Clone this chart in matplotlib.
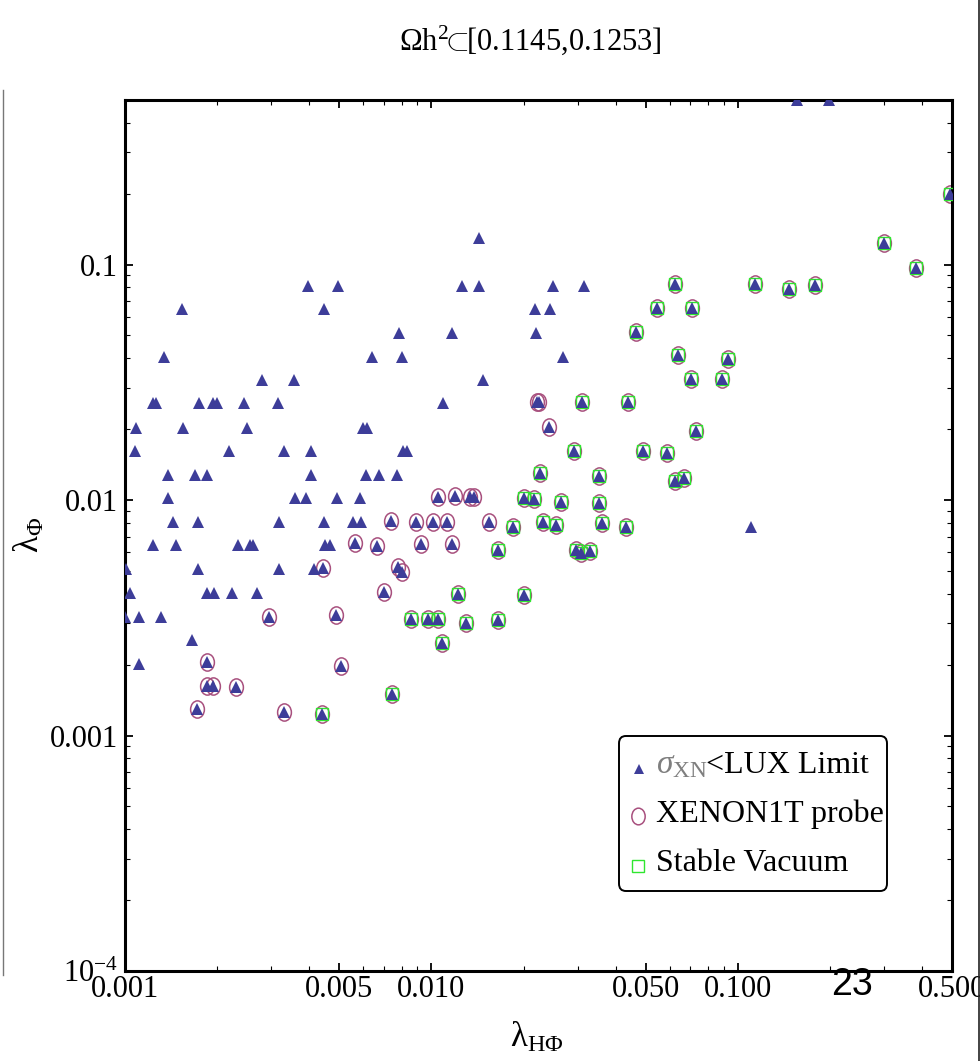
import matplotlib
matplotlib.use('Agg')
import matplotlib.pyplot as plt
from matplotlib.path import Path
from matplotlib.transforms import Affine2D
from matplotlib.patches import FancyBboxPatch
from matplotlib.lines import Line2D
from matplotlib.ticker import FixedLocator, NullFormatter

plt.rcParams['font.family'] = ['Liberation Serif', 'DejaVu Serif']
plt.rcParams['mathtext.fontset'] = 'custom'
plt.rcParams['mathtext.rm'] = 'Liberation Serif'
plt.rcParams['mathtext.it'] = 'Liberation Serif:italic'
plt.rcParams['mathtext.bf'] = 'Liberation Serif:bold'

# points allowed by LUX only
lux_x = [0.0143, 0.00395, 0.00496, 0.01256, 0.0143, 0.00153, 0.00447, 0.00782, 0.0117,
         0.00134, 0.0064, 0.00804, 0.00281, 0.00355, 0.01477,
         0.00123, 0.00126, 0.00175, 0.00194, 0.0020, 0.00245, 0.00316, 0.01094,
         0.00109, 0.00155, 0.0025, 0.0060, 0.00615,
         0.00108, 0.00219, 0.0033, 0.00404, 0.00806, 0.00831,
         0.00138, 0.00169, 0.00185, 0.00404, 0.00612, 0.00675, 0.0077,
         0.00138, 0.0036, 0.0039, 0.00491, 0.00585,
         0.00143, 0.00173, 0.00318, 0.00447, 0.00556, 0.00588,
         0.00123, 0.00147, 0.00233, 0.00256, 0.00262, 0.00449, 0.00467,
         0.00101, 0.00173, 0.00318, 0.00415,
         0.00104, 0.00185, 0.00195, 0.00223, 0.0027,
         0.0010, 0.00111, 0.00131,
         0.00165, 0.00111,
         0.025, 0.0315, 0.0217, 0.0244, 0.022, 0.0268,
         0.156, 0.199, 0.110]
lux_y = [0.130, 0.0814, 0.0814, 0.0814, 0.0814, 0.0648, 0.0648, 0.0512, 0.0512,
         0.0407, 0.0407, 0.0407, 0.0324, 0.0324, 0.0322,
         0.0258, 0.0258, 0.0258, 0.0258, 0.0258, 0.0258, 0.0258, 0.0258,
         0.0202, 0.0202, 0.0202, 0.0202, 0.0202,
         0.0162, 0.0162, 0.0162, 0.0162, 0.0162, 0.0162,
         0.0128, 0.0128, 0.0128, 0.0128, 0.0128, 0.0128, 0.0128,
         0.0102, 0.0102, 0.0102, 0.0102, 0.0102,
         0.00808, 0.00808, 0.00808, 0.00808, 0.00808, 0.00808,
         0.00643, 0.00643, 0.00643, 0.00643, 0.00643, 0.00643, 0.00643,
         0.00512, 0.00512, 0.00512, 0.00512,
         0.00403, 0.00403, 0.00403, 0.00403, 0.00403,
         0.00319, 0.00319, 0.00319,
         0.00254, 0.00202,
         0.0814, 0.0814, 0.0648, 0.0648, 0.0512, 0.0407,
         0.5, 0.5, 0.00765]

# points within XENON1T reach but with unstable vacuum
xen_x = [0.01049, 0.01194, 0.01337, 0.01377, 0.0074, 0.00889, 0.01014, 0.01122, 0.01542,
         0.00563, 0.00666, 0.00925, 0.01165, 0.00442, 0.00776, 0.00804, 0.00702,
         0.00295, 0.00488, 0.00185, 0.00506, 0.00185, 0.00194, 0.0023, 0.00172, 0.0033,
         0.02207, 0.02245, 0.02425]
xen_y = [0.0103, 0.0104, 0.0103, 0.0103, 0.00816, 0.00808, 0.00808, 0.00808, 0.00806,
         0.00654, 0.00639, 0.00648, 0.00648, 0.00517, 0.0052, 0.00497, 0.00405,
         0.00319, 0.00326, 0.00205, 0.00197, 0.00162, 0.00162, 0.0016, 0.00129, 0.00126,
         0.026, 0.026, 0.0205]

# XENON1T points that also keep the vacuum stable
stab_x = [0.02006, 0.02162, 0.01851, 0.01654, 0.01224, 0.00856, 0.00977, 0.01053, 0.01294,
          0.01654, 0.01085, 0.00744, 0.00441,
          0.0624, 0.1135, 0.1466, 0.1782, 0.3008, 0.3807, 0.4928,
          0.0545, 0.0707, 0.0464, 0.0638, 0.0929, 0.0704, 0.0886,
          0.0311, 0.0437, 0.0732, 0.0293, 0.0489, 0.0586,
          0.0226, 0.0353, 0.0624, 0.0666,
          0.0265, 0.0352,
          0.0232, 0.0255, 0.0361, 0.0430,
          0.0297, 0.0308, 0.0329,
          0.0201]
stab_y = [0.0102, 0.0101, 0.0077, 0.00616, 0.00401, 0.00314, 0.00314, 0.00311, 0.00301,
          0.00309, 0.00247, 0.0015, 0.00123,
          0.083, 0.0828, 0.079, 0.082, 0.1237, 0.0968, 0.1986,
          0.0654, 0.0654, 0.0517, 0.0413, 0.0397, 0.0326, 0.0326,
          0.026, 0.026, 0.0197, 0.0162, 0.0162, 0.0158,
          0.013, 0.0126, 0.0121, 0.0124,
          0.00984, 0.00968,
          0.00808, 0.00783, 0.00796, 0.00765,
          0.00613, 0.00593, 0.00608,
          0.00394]

xticks = [0.001, 0.005, 0.01, 0.05, 0.1, 0.5]
xtick_labels = ['0.001', '0.005', '0.010', '0.050', '0.100', '0.500']
yticks = [1e-4, 1e-3, 1e-2, 0.1]
ytick_labels = [r'$10^{-4}$', '0.001', '0.01', '0.1']

TRI = '#3d3d99'
CIRC = '#a8507e'
SQ = '#2fe62f'

W, H = 980, 1061
fig = plt.figure(figsize=(W / 100, H / 100), dpi=100)
ax = fig.add_axes([125 / W, 90 / H, 827 / W, 871 / H])


def fx(px):
    return px / W


def fy(py):
    return 1 - py / H


# slightly tall ellipse for the XENON1T marker
ellipse = Path.unit_circle().transformed(Affine2D().scale(0.8, 1.0))

all_x = lux_x + xen_x + stab_x
all_y = lux_y + xen_y + stab_y
circ_x = xen_x + stab_x
circ_y = xen_y + stab_y

ax.plot(circ_x, circ_y, ls='none', marker=ellipse, ms=12.4, mfc='none', mec=CIRC, mew=1.1, zorder=2)
ax.plot(stab_x, stab_y, ls='none', marker='s', ms=8.4, mfc='none', mec=SQ, mew=1.0, zorder=3)
ax.plot(all_x, all_y, ls='none', marker='^', ms=8.6, color=TRI, mew=0, zorder=4)

ax.set_xscale('log')
ax.set_yscale('log')
ax.set_xlim(0.001, 0.5)
ax.set_ylim(1e-4, 0.5)

xminor = [k * 10.0 ** d for d in (-3, -2, -1) for k in (2, 3, 4, 6, 7, 8, 9) if k * 10.0 ** d < 0.5]
yminor = [k * 10.0 ** d for d in (-4, -3, -2, -1) for k in (2, 3, 4, 5, 6, 7, 8, 9) if k * 10.0 ** d < 0.5]
ax.xaxis.set_major_locator(FixedLocator(xticks))
ax.xaxis.set_minor_locator(FixedLocator(xminor))
ax.yaxis.set_major_locator(FixedLocator(yticks))
ax.yaxis.set_minor_locator(FixedLocator(yminor))
ax.xaxis.set_minor_formatter(NullFormatter())
ax.yaxis.set_minor_formatter(NullFormatter())
ax.set_xticklabels(xtick_labels, fontsize=22)
ax.set_yticklabels(ytick_labels, fontsize=22)

ax.tick_params(which='both', direction='in', top=True, right=True)
ax.tick_params(which='major', length=6, width=1.3)
ax.tick_params(which='minor', length=3.8, width=0.8)
ax.tick_params(axis='x', pad=3)
ax.tick_params(axis='y', pad=5)
for s in ax.spines.values():
    s.set_linewidth(2.2)

# axis labels and title
fig.text(fx(530), fy(40), r'$\Omega\mathrm{h}^2\!\!{\subset}\!\![0.1145{,}0.1253]$', fontsize=22,
         ha='center', va='center')
fig.text(fx(537), fy(1038), r'$\mathrm{\lambda}_{\mathrm{H\Phi}}$', fontsize=25,
         ha='center', va='center')
fig.text(fx(30), fy(535), r'$\mathrm{\lambda}_{\mathrm{\Phi}}$', fontsize=25,
         ha='center', va='center', rotation=90)

# legend box
box = FancyBboxPatch((fx(619), fy(891)), fx(887) - fx(619), fy(736) - fy(891),
                     boxstyle='round,pad=0,rounding_size=0.007', transform=fig.transFigure,
                     fc='white', ec='black', lw=1.4, zorder=10)
fig.add_artist(box)
fig.add_artist(Line2D([fx(639)], [fy(769)], ls='none', marker='^', ms=7.5, color=TRI, mew=0, zorder=11))
fig.add_artist(Line2D([fx(637.5)], [fy(816)], ls='none', marker=ellipse, ms=12, mfc='none',
                      mec=CIRC, mew=1.1, zorder=11))
fig.add_artist(Line2D([fx(638)], [fy(866)], ls='none', marker='s', ms=8, mfc='none',
                      mec=SQ, mew=1.0, zorder=11))
fig.text(fx(656), fy(773), r'$\sigma_{\mathrm{XN}}$', fontsize=24, color='#7f7f7f',
         va='baseline', zorder=12)
fig.text(fx(706), fy(773), '<LUX Limit', fontsize=23, va='baseline', zorder=12)
fig.text(fx(656), fy(822), 'XENON1T probe', fontsize=23, va='baseline', zorder=12)
fig.text(fx(656), fy(871), 'Stable Vacuum', fontsize=23, va='baseline', zorder=12)

# page number and the thin rules at the page edges
fig.text(fx(852), fy(985), '23', fontsize=27, family='Liberation Sans', ha='center', va='center')
fig.add_artist(Line2D([fx(2.5), fx(2.5)], [fy(90), fy(975)], color='#777777', lw=1.0))
fig.add_artist(Line2D([fx(979), fx(979)], [0, 1], color='#222222', lw=1.2))

fig.savefig('out.png', dpi=100)
